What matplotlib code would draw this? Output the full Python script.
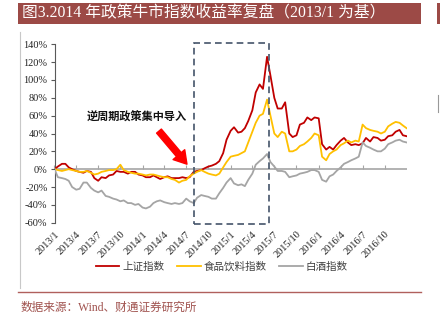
import matplotlib
matplotlib.use('Agg')
import matplotlib.pyplot as plt
import matplotlib.dates as mdates
from matplotlib.patches import Rectangle
from matplotlib.lines import Line2D
import pandas as pd

plt.rcParams['font.family'] = ['Liberation Serif', 'Noto Sans CJK SC']

# ---------------- data (semi-monthly readings, % vs 2013/1 base) ----------------
dates = list(pd.date_range('2013-01-01', '2016-12-15', freq='SMS')) + [pd.Timestamp('2016-12-30')]

sse = [0, 3, 6, 6, 2, 0, -2, -3, -4, -2, -3, -10, -13, -9, -10, -7, -6, -2, -3, -3, -5, -3, -3, -6,
       -7, -9, -9, -7, -9, -11, -9, -8, -10, -10, -10, -9, -10, -9, -3, -2, -1, 1, 3, 4, 6, 9, 18, 33,
       43, 47, 41, 42, 46, 54, 66, 86, 95, 90, 126, 105, 80, 68, 68, 75, 40, 36, 38, 50, 52, 58, 55, 58,
       57, 28, 22, 25, 22, 27, 32, 35, 30, 27, 28, 27, 29, 35, 31, 36, 35, 32, 33, 37, 38, 42, 44, 38,
       37]

food = [0, -1, -2, -1, 0, -1, -2, -3, -3, -2, -4, -6, -5, -3, -2, -1, -1, 0, 5, -1, -3, -4, -5, -5,
        -6, -7, -6, -6, -7, -8, -9, -9, -11, -12, -15, -13, -12, -8, -5, -3, -1, -3, -5, -6, -7, -5, 2, 8,
        14, 15, 16, 18, 20, 30, 42, 52, 60, 62, 78, 60, 40, 36, 42, 40, 20, 20, 22, 26, 28, 31, 35, 40,
        38, 14, 10, 17, 20, 22, 27, 29, 32, 30, 32, 31, 50, 46, 44, 43, 42, 40, 42, 48, 51, 53, 52, 49,
        46]

liquor = [0, -9, -10, -11, -13, -20, -23, -22, -15, -15, -21, -24, -26, -24, -30, -31, -33, -34, -36, -35, -38, -38, -40, -39,
          -43, -44, -42, -38, -36, -35, -37, -38, -39, -38, -39, -38, -33, -36, -38, -32, -29, -30, -31, -33, -33, -27, -21, -15,
          -10, -16, -18, -17, -19, -12, -5, 5, 9, 12, 17, 8, 3, -2, -2, -3, -9, -8, -7, -5, -4, -3, -1, -1,
          -3, -12, -14, -8, -6, -2, 2, 6, 8, 10, 12, 14, 30, 26, 24, 22, 20, 20, 23, 28, 30, 32, 33, 31,
          30]

series_names = ['上证指数', '食品饮料指数', '白酒指数']
series_colors = ['#C00000', '#FFC000', '#A5A5A5']

tick_dates = list(pd.date_range('2013-01-01', '2016-10-01', freq='QS'))
tick_labels = [f'{d.year}/{d.month}' for d in tick_dates]
y_ticks = list(range(-60, 141, 20))

title = '图3.2014 年政策牛市指数收益率复盘（2013/1 为基）'
note = '逆周期政策集中导入'
source = '数据来源：Wind、财通证券研究所'

# ---------------- figure ----------------
W, H = 440, 324
fig = plt.figure(figsize=(W / 100, H / 100), dpi=100)
ax = fig.add_axes([54.5 / W, 1 - 222.7 / H, (407 - 54.5) / W, (222.7 - 44.3) / H])

ax.axhline(0, color='#A6A6A6', lw=1.2, zorder=1)
ax.plot(tick_dates, [0] * len(tick_dates), ls='none', marker=2, ms=3, mew=0.8,
        color='#A6A6A6', zorder=1, clip_on=False)

handles = []
for vals, name, col in zip([sse, food, liquor], series_names, series_colors):
    h, = ax.plot(dates, vals, color=col, lw=1.3, label=name, zorder=3)
    handles.append(h)

ax.set_xlim(pd.Timestamp('2013-01-01'), pd.Timestamp('2017-01-01'))
ax.set_ylim(-60, 140)
ax.set_yticks(y_ticks)
ax.set_yticklabels([f'{v}%' for v in y_ticks])
ax.set_xticks(tick_dates)
ax.set_xticklabels(tick_labels, rotation=45, ha='right', va='top', rotation_mode='anchor')

for s in ['top', 'right', 'bottom']:
    ax.spines[s].set_visible(False)
ax.spines['left'].set_color('#595959')
ax.spines['left'].set_linewidth(0.8)
ax.tick_params(axis='y', direction='out', length=3, width=0.8, color='#595959',
               labelsize=7.5, labelcolor='#222222', pad=2)
ax.tick_params(axis='x', length=0, labelsize=7.5, labelcolor='#222222', pad=5)

# dashed box
x0 = mdates.date2num(pd.Timestamp('2014-08-01'))
x1 = mdates.date2num(pd.Timestamp('2015-06-07'))
ax.add_patch(Rectangle((x0, -61), x1 - x0, 202, fill=False, ec='#44546A', lw=1.2,
                       ls=(0, (4, 2.5)), clip_on=False, zorder=4))

# annotation
ax.text(mdates.date2num(pd.Timestamp('2013-05-15')), 58, note, fontsize=8, fontweight='bold',
        ha='left', va='center', color='#111111', zorder=5)
ax.annotate('', xy=(mdates.date2num(pd.Timestamp('2014-07-04')), 5.6),
            xytext=(mdates.date2num(pd.Timestamp('2014-03-10')), 42.7),
            arrowprops=dict(arrowstyle='simple,head_length=0.9,head_width=1.1,tail_width=0.45',
                            color='#FF0000', mutation_scale=10, shrinkA=0, shrinkB=0), zorder=5)

# legend
fig.legend(handles=handles, labels=series_names, ncol=3, loc='center',
           bbox_to_anchor=(222 / W, 1 - 267 / H), frameon=False, fontsize=7.6,
           handlelength=2.2, handletextpad=0.3, columnspacing=1.2, labelcolor='#404040')

# title bar
fig.add_artist(Rectangle((18 / W, 1 - 24 / H), (421 - 18) / W, 21 / H, transform=fig.transFigure,
                         fc='#9C4A46', ec='none'))
fig.add_artist(Rectangle((437 / W, 1 - 24 / H), 3 / W, 21 / H, transform=fig.transFigure,
                         fc='#9C4A46', ec='none'))
fig.text(22 / W, 1 - 13.7 / H, title, color='white', fontsize=11.3, ha='left', va='center')

# frame lines
fig.add_artist(Line2D([20 / W, 20 / W], [1 - 32 / H, 1 - 288 / H], color='#C8C8C8', lw=0.8))
fig.add_artist(Line2D([437.5 / W, 437.5 / W], [1 - 95 / H, 1 - 112 / H], color='#999999', lw=0.8))
fig.add_artist(Line2D([18 / W, 421 / W], [1 - 292.3 / H] * 2, color='#B0605C', lw=1.0))

fig.text(20 / W, 1 - 307.7 / H, source, fontsize=8.4, color='#A0524E', ha='left', va='center')

fig.savefig('out.png', dpi=100)
